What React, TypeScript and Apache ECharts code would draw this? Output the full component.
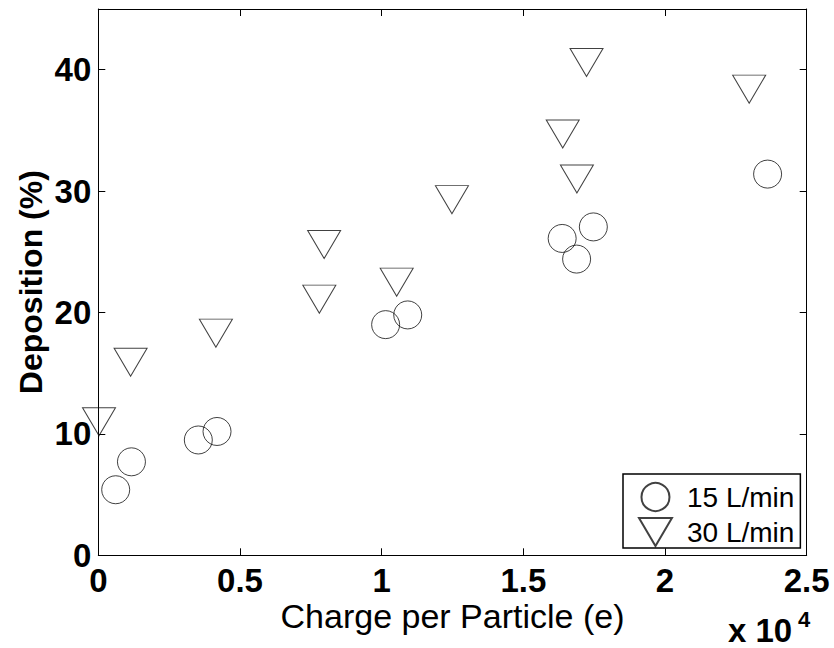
import React, { useEffect, useRef } from 'react';
import * as echarts from 'echarts';

const FONT = "'Liberation Sans', Arial, Helvetica, sans-serif";

const xTickLabels = ['0', '0.5', '1', '1.5', '2', '2.5'];
const seriesNames = ['15 L/min', '30 L/min'];

// Charge per particle (e) and deposition (%)
const flow15Charge = [614, 1170, 3530, 4190, 10140, 10920, 16370, 16880, 17470, 23620];
const flow15Deposition = [5.4, 7.7, 9.5, 10.2, 19.0, 19.8, 26.1, 24.4, 27.05, 31.4];

const flow30Charge = [25, 1140, 4150, 7800, 7970, 10530, 12480, 16390, 16890, 17230, 22970];
const flow30Deposition = [11.0, 15.9, 18.3, 21.1, 25.6, 22.5, 29.3, 34.7, 31.0, 40.6, 38.4];

const zip = (xs: number[], ys: number[]) => xs.map((x, i) => [x, ys[i]]);

export default function App() {
  const ref = useRef<HTMLDivElement>(null);

  useEffect(() => {
    if (!ref.current) return;
    const chart = echarts.init(ref.current, undefined, { renderer: 'svg' });

    const axisCommon = {
      type: 'value' as const,
      axisLine: { show: true, onZero: false, lineStyle: { color: '#000', width: 1 } },
      axisTick: { show: true, inside: true, length: 7, lineStyle: { color: '#000', width: 1 } },
      splitLine: { show: false },
    };

    chart.setOption({
      animation: false,
      backgroundColor: '#fff',
      grid: { left: 98.3, right: 27.3, top: 9, bottom: 92.7, containLabel: false },
      xAxis: [
        {
          ...axisCommon,
          position: 'bottom',
          min: 0,
          max: 25000,
          interval: 5000,
          axisLabel: {
            margin: 12,
            fontSize: 33,
            lineHeight: 26,
            fontWeight: 'bold',
            fontFamily: FONT,
            color: '#000',
            formatter: (v: number) => xTickLabels[Math.round(v / 5000)] ?? '',
          },
          name: 'Charge per Particle (e)',
          nameLocation: 'middle',
          nameGap: 48,
          nameMoveOverlap: false,
          nameTextStyle: { fontSize: 34, lineHeight: 26, fontFamily: FONT, color: '#000' },
        },
        {
          ...axisCommon,
          position: 'top',
          min: 0,
          max: 25000,
          interval: 5000,
          axisLabel: { show: false },
        },
      ],
      yAxis: [
        {
          ...axisCommon,
          position: 'left',
          min: 0,
          max: 45,
          interval: 10,
          axisLabel: {
            margin: 7,
            fontSize: 33,
            fontWeight: 'bold',
            fontFamily: FONT,
            color: '#000',
            showMaxLabel: false,
          },
          name: 'Deposition (%)',
          nameLocation: 'middle',
          nameRotate: 90,
          nameGap: 51,
          nameMoveOverlap: false,
          nameTextStyle: { fontSize: 32, fontWeight: 'bold', fontFamily: FONT, color: '#000' },
        },
        {
          ...axisCommon,
          position: 'right',
          min: 0,
          max: 45,
          interval: 10,
          axisLabel: { show: false },
        },
      ],
      legend: {
        orient: 'vertical',
        left: 623,
        top: 474,
        itemWidth: 33,
        itemHeight: 28,
        itemGap: 5,
        padding: [8, 6, 1, 15],
        borderColor: '#000',
        borderWidth: 1.5,
        backgroundColor: '#fff',
        selectedMode: false,
        textStyle: { fontSize: 28, lineHeight: 28, fontFamily: FONT, color: '#000', padding: [0, 0, 0, 10] },
        data: seriesNames,
      },
      series: [
        {
          type: 'scatter',
          name: seriesNames[0],
          data: zip(flow15Charge, flow15Deposition),
          symbol: 'circle',
          symbolSize: 28,
          itemStyle: { color: 'rgba(255,255,255,0)', borderColor: '#111', borderWidth: 1 },
          emphasis: { disabled: true },
        },
        {
          type: 'scatter',
          name: seriesNames[1],
          data: zip(flow30Charge, flow30Deposition),
          symbol: 'path://M0,0L40,0L20,34Z',
          symbolSize: [33, 28],
          itemStyle: { color: 'rgba(255,255,255,0)', borderColor: '#111', borderWidth: 1 },
          emphasis: { disabled: true },
        },
      ],
      graphic: [
        {
          type: 'text',
          x: 728,
          y: 630,
          style: {
            text: 'x 10',
            font: `bold 33px ${FONT}`,
            fill: '#000',
            verticalAlign: 'middle',
            align: 'left',
          },
        },
        {
          type: 'text',
          x: 798,
          y: 619,
          style: {
            text: '4',
            font: `bold 22px ${FONT}`,
            fill: '#000',
            verticalAlign: 'middle',
            align: 'left',
          },
        },
      ],
    });

    return () => chart.dispose();
  }, []);

  return (
    <div
      ref={ref}
      style={{ position: 'fixed', left: 0, top: 0, width: 834, height: 648, background: '#fff' }}
    />
  );
}
